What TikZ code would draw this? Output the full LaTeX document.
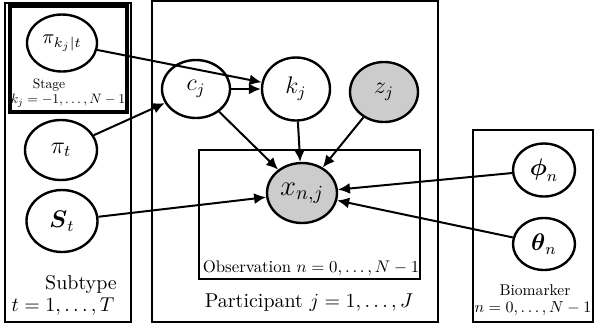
\documentclass[tikz,border=0pt]{standalone}
\usepackage{amsmath}
\usetikzlibrary{shapes.geometric,arrows.meta}
\begin{document}
\begin{tikzpicture}[x=0.5pt, y=-0.5pt, >={Latex[length=6pt,width=5.5pt]},
  latent/.style={ellipse, draw, line width=1.2pt, inner sep=0pt, font=\large},
  observed/.style={latent, fill=gray!40},
  plate/.style={draw, line width=0.9pt},
  edge/.style={->, line width=1pt},
  platelbl/.style={inner sep=0pt}]
\useasboundingbox (0,0) rectangle (596,329);
\draw[plate] (5,3) rectangle (131,322);
\draw[plate, line width=1.6pt] (10,6) rectangle (127,112);
\draw[plate] (152,1) rectangle (438,322);
\draw[plate] (199,150) rectangle (420,279);
\draw[plate] (473,130) rectangle (593,322);
\node[latent, font=\normalsize, minimum width=35pt, minimum height=28.5pt] (pikt) at (62,43) {$\pi_{k_j|t}$};
\node[latent, minimum width=36pt, minimum height=30pt] (pit) at (61,150) {$\pi_t$};
\node[latent, minimum width=35.5pt, minimum height=31pt] (st) at (62,221) {$\boldsymbol{S}_t$};
\node[latent, minimum width=34pt, minimum height=29pt] (cj) at (196,89) {$c_j$};
\node[latent, minimum width=34pt, minimum height=31.5pt] (kj) at (296,89) {$k_j$};
\node[observed, minimum width=34pt, minimum height=30pt] (zj) at (384,92) {$z_j$};
\node[observed, font=\Large, minimum width=35pt, minimum height=30pt] (xnj) at (302,193) {$x_{n,j}$};
\node[latent, minimum width=31pt, minimum height=26.5pt] (phin) at (544,170) {$\boldsymbol{\phi}_n$};
\node[latent, minimum width=31pt, minimum height=26pt] (thetan) at (544,244) {$\boldsymbol{\theta}_n$};
\node[platelbl] (stagelbl) at (49,85) {\scalebox{0.68}{Stage}};
\node[platelbl] (stagerng) at (68,101) {\scalebox{0.68}{$k_j=-1,\ldots,N-1$}};
\node (subtypelbl) at (81,284) {Subtype};
\node (subtyperng) at (63,307) {$t=1,\ldots,T$};
\node[platelbl] (obslbl) at (311,268) {\scalebox{0.84}{Observation $n=0,\ldots,N-1$}};
\node (partlbl) at (309,303) {Participant $j=1,\ldots,J$};
\node[platelbl] (biolbl) at (535,290) {\scalebox{0.78}{Biomarker}};
\node[platelbl] (biorng) at (533,309) {\scalebox{0.8}{$n=0,\ldots,N-1$}};
\draw[edge] (pikt) -- (kj);
\draw[edge] (pit) -- (cj);
\draw[edge] (cj) -- (kj);
\draw[edge] (cj) -- (xnj);
\draw[edge] (kj) -- (xnj);
\draw[edge] (zj) -- (xnj);
\draw[edge] (st) -- (xnj);
\draw[edge] (phin) -- (xnj);
\draw[edge] (thetan) -- (xnj);
\end{tikzpicture}
\end{document}
